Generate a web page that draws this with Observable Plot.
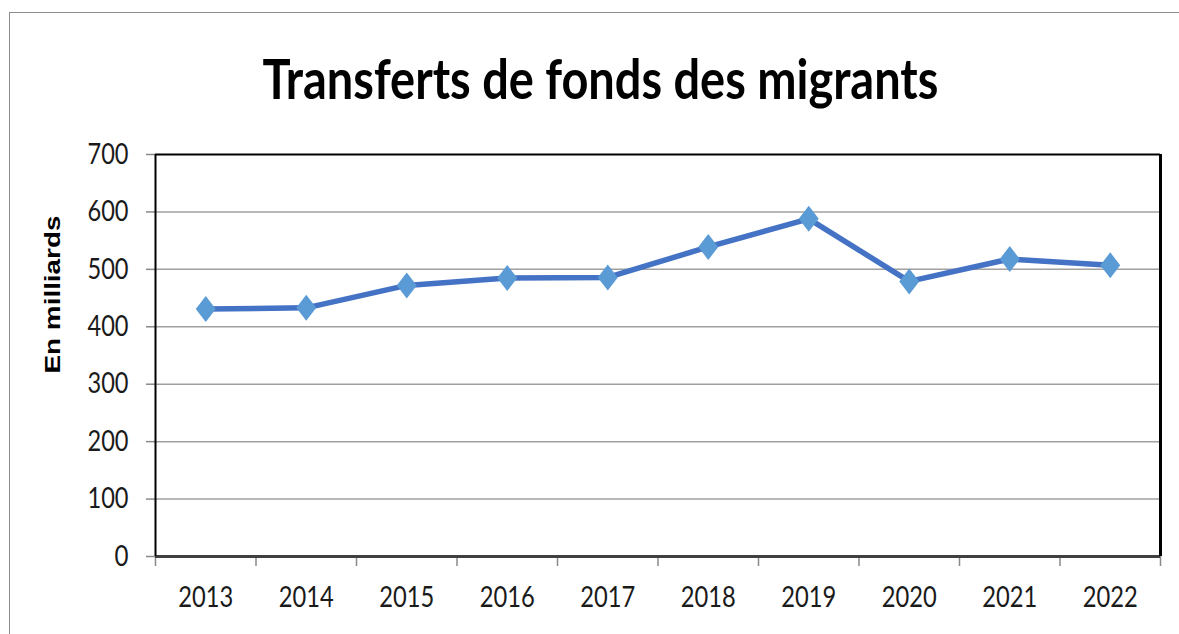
<!DOCTYPE html>
<html>
<head>
<meta charset="utf-8">
<script src="https://cdn.jsdelivr.net/npm/d3@7"></script>
<script src="https://cdn.jsdelivr.net/npm/@observablehq/plot@0.6"></script>
<style>
  html, body { margin: 0; padding: 0; background: #fff; }
  #page { position: relative; width: 1179px; height: 634px; overflow: hidden; }
  #frame { position: absolute; left: 9px; top: 12px; width: 1300px; height: 800px;
           border-left: 1.5px solid #8c8c8c; border-top: 1.5px solid #8c8c8c; }
  #title { position: absolute; left: 0; width: 1200px; top: 50px; text-align: center;
           font-family: Lato, 'Open Sans', sans-serif;
           font-weight: bold; font-size: 56px; line-height: 1; color: #000; }
  #title span { display: inline-block; transform-origin: 50% 50%; white-space: nowrap; }
  #chart { position: absolute; left: 0; top: 120px; }
</style>
</head>
<body>
<div id="page">
  <div id="frame"></div>
  <div id="title"><span>Transferts de fonds des migrants</span></div>
  <div id="chart"></div>
</div>
<script>
const years = [2013, 2014, 2015, 2016, 2017, 2018, 2019, 2020, 2021, 2022];
const values = [431, 433, 472, 485, 486, 539, 588, 479, 518, 507];
const yTicks = [0, 100, 200, 300, 400, 500, 600, 700];
const yLabel = "En milliards";

const data = years.map((year, i) => ({year, value: values[i]}));
const edges = years.map(y => y - 0.5).concat([years[years.length - 1] + 0.5]);
const gridVals = yTicks.filter(v => v > yTicks[0] && v < yTicks[yTicks.length - 1]);

const diamond = {
  draw(ctx, size) {
    const s = Math.sqrt(size / Math.PI);
    ctx.moveTo(0, -1.3 * s);
    ctx.lineTo(s, 0);
    ctx.lineTo(0, 1.3 * s);
    ctx.lineTo(-s, 0);
    ctx.closePath();
  }
};

const font = "Lato, 'Open Sans', sans-serif";

const chart = Plot.plot({
  width: 1179,
  height: 514,
  marginLeft: 155,
  marginRight: 19,
  marginTop: 34,
  marginBottom: 78,
  style: {background: "transparent", fontFamily: font, color: "#1a1a1a"},
  x: {type: "linear", domain: [edges[0], edges[edges.length - 1]]},
  y: {domain: [yTicks[0], yTicks[yTicks.length - 1]]},
  marks: [
    Plot.ruleY(gridVals, {stroke: "#a0a0a0", strokeWidth: 1.5}),
    Plot.axisX(edges, {tickSize: 10, tickFormat: () => "", label: null, stroke: "#8a8a8a", strokeWidth: 1.5, strokeOpacity: 1}),
    Plot.axisX(years, {tickSize: 0, tickPadding: 30, tickFormat: d => String(d), fontSize: 29, label: null, fill: "#1a1a1a"}),
    Plot.axisY(yTicks, {tickSize: 9, tickPadding: 18, fontSize: 29, label: null, stroke: "#8a8a8a", strokeWidth: 1.5, strokeOpacity: 1, fill: "#1a1a1a"}),
    Plot.ruleY([yTicks[0]], {stroke: "#404040", strokeWidth: 3}),
    Plot.ruleY([yTicks[yTicks.length - 1]], {stroke: "#000", strokeWidth: 2}),
    Plot.ruleX([edges[0]], {stroke: "#000", strokeWidth: 2}),
    Plot.ruleX([edges[edges.length - 1]], {stroke: "#000", strokeWidth: 3}),
    Plot.line(data, {x: "year", y: "value", stroke: "#4472C4", strokeWidth: 5.5}),
    Plot.dot(data, {x: "year", y: "value", symbol: diamond, r: 10, fill: "#5B9BD5", stroke: "none"}),
    Plot.text([yLabel], {frameAnchor: "top-left", textAnchor: "middle", lineAnchor: "middle", rotate: -90, dx: -103, dy: 140, fontSize: 22, fontWeight: "bold", fontFamily: "'Liberation Sans', Arial, sans-serif", fill: "#000"})
  ]
});
document.getElementById("chart").appendChild(chart);

// condense glyphs to match the narrow original typeface
d3.select(chart).selectAll("text").each(function() {
  const t = this.textContent;
  if (t === yLabel) {
    d3.select(this).attr("textLength", 158).attr("lengthAdjust", "spacingAndGlyphs");
  } else if (/^\d+$/.test(t)) {
    d3.select(this).attr("textLength", Math.round(t.length * 13.7)).attr("lengthAdjust", "spacingAndGlyphs");
  }
});

const span = document.querySelector("#title span");
const w = span.getBoundingClientRect().width;
span.style.transform = `scaleX(${676 / w})`;
</script>
</body>
</html>
